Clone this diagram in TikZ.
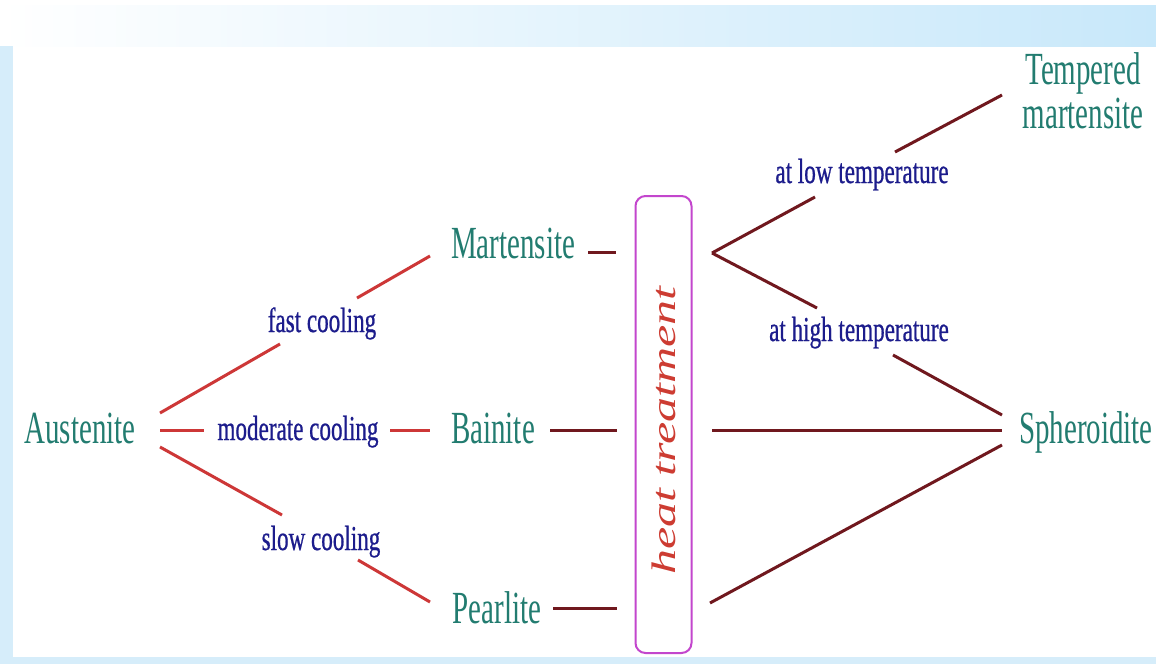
\documentclass[tikz,border=0pt]{standalone}
\usepackage{fontspec}
\setmainfont{Liberation Serif}
\newfontfamily\condfont[FakeStretch=0.63]{Liberation Serif}
\newfontfamily\labfont[FakeStretch=0.66,FakeBold=0.6]{Liberation Serif}
\definecolor{phasecol}{RGB}{34,124,112}
\definecolor{navycol}{RGB}{28,28,140}
\definecolor{lredcol}{RGB}{205,55,55}
\definecolor{dredcol}{RGB}{112,24,30}
\definecolor{boxcol}{RGB}{195,70,205}
\definecolor{htcol}{RGB}{205,60,50}
\definecolor{bgblue}{RGB}{214,237,250}
\definecolor{bandblue}{RGB}{200,232,250}
\begin{document}
\begin{tikzpicture}[x=1pt,y=-1pt,
  phase/.style={font=\condfont\fontsize{46}{44}\selectfont, text=phasecol, inner sep=0pt, anchor=base},
  condlab/.style={font=\labfont\fontsize{35}{38}\selectfont, text=navycol, inner sep=0pt, anchor=base},
  lline/.style={draw=lredcol, line width=3pt},
  dline/.style={draw=dredcol, line width=3pt}]
\useasboundingbox (0,0) rectangle (1156,664);
% background
\fill[white] (0,0) rectangle (1156,664);
\shade[left color=white, right color=bandblue] (0,5) rectangle (1156,46);
\fill[bgblue] (0,46) rectangle (13,664);
\fill[bgblue] (0,657) rectangle (1156,664);
% phases
\node[phase] (aus) at (80,443) {Austenite};
\node[phase] (mart) at (513,258) {Martensite};
\node[phase] (bain) at (493,443) {Bainite};
\node[phase] (pearl) at (497,623) {Pearlite};
\node[phase, anchor=north, align=center] (temp) at (1083,52) {Tempered\\martensite};
\node[phase] (sph) at (1086,443) {Spheroidite};
% conditions
\node[condlab] (fast) at (322,332) {fast cooling};
\node[condlab] (mod) at (298,440) {moderate cooling};
\node[condlab] (slow) at (321,550) {slow cooling};
\node[condlab] (low) at (862,183) {at low temperature};
\node[condlab] (high) at (859,341) {at high temperature};
% heat treatment box
\node[draw=boxcol, line width=2pt, rounded corners=10pt, minimum width=457pt, minimum height=56pt, inner sep=0pt, rotate=90,
      font=\itshape\fontsize{50}{52}\selectfont, text=htcol] (ht) at (663.5,424.5) {\scalebox{1}[0.68]{heat treatment}\hspace*{12pt}};
% connector end points
\coordinate (ausN) at (160,413); \coordinate (ausE) at (160,430); \coordinate (ausS) at (160,447);
\coordinate (fastW) at (280,344); \coordinate (fastE) at (357,298);
\coordinate (modW) at (204,430); \coordinate (modE) at (390,430);
\coordinate (slowW) at (282,515); \coordinate (slowE) at (358,560);
\coordinate (martW) at (430,256); \coordinate (martE) at (588,252);
\coordinate (bainW) at (430,430); \coordinate (bainE) at (550,430);
\coordinate (pearlW) at (430,602); \coordinate (pearlE) at (553,608);
\coordinate (htWa) at (616,252); \coordinate (htWb) at (617,430); \coordinate (htWc) at (617,608);
\coordinate (htEa) at (712,253); \coordinate (htEb) at (712,430); \coordinate (htEc) at (710,603);
\coordinate (lowW) at (815,197); \coordinate (lowE) at (895,152);
\coordinate (highW) at (817,308); \coordinate (highE) at (893,355);
\coordinate (tempW) at (1002,95);
\coordinate (sphWa) at (1002,415); \coordinate (sphWb) at (1002,430); \coordinate (sphWc) at (1002,445);
% cooling connectors
\draw[lline] (ausN) -- (fastW);
\draw[lline] (fastE) -- (martW);
\draw[lline] (ausE) -- (modW);
\draw[lline] (modE) -- (bainW);
\draw[lline] (ausS) -- (slowW);
\draw[lline] (slowE) -- (pearlW);
% to heat treatment
\draw[dline] (martE) -- (htWa);
\draw[dline] (bainE) -- (htWb);
\draw[dline] (pearlE) -- (htWc);
% from heat treatment
\draw[dline] (htEa) -- (lowW);
\draw[dline] (lowE) -- (tempW);
\draw[dline] (htEa) -- (highW);
\draw[dline] (highE) -- (sphWa);
\draw[dline] (htEb) -- (sphWb);
\draw[dline] (htEc) -- (sphWc);
\end{tikzpicture}
\end{document}
